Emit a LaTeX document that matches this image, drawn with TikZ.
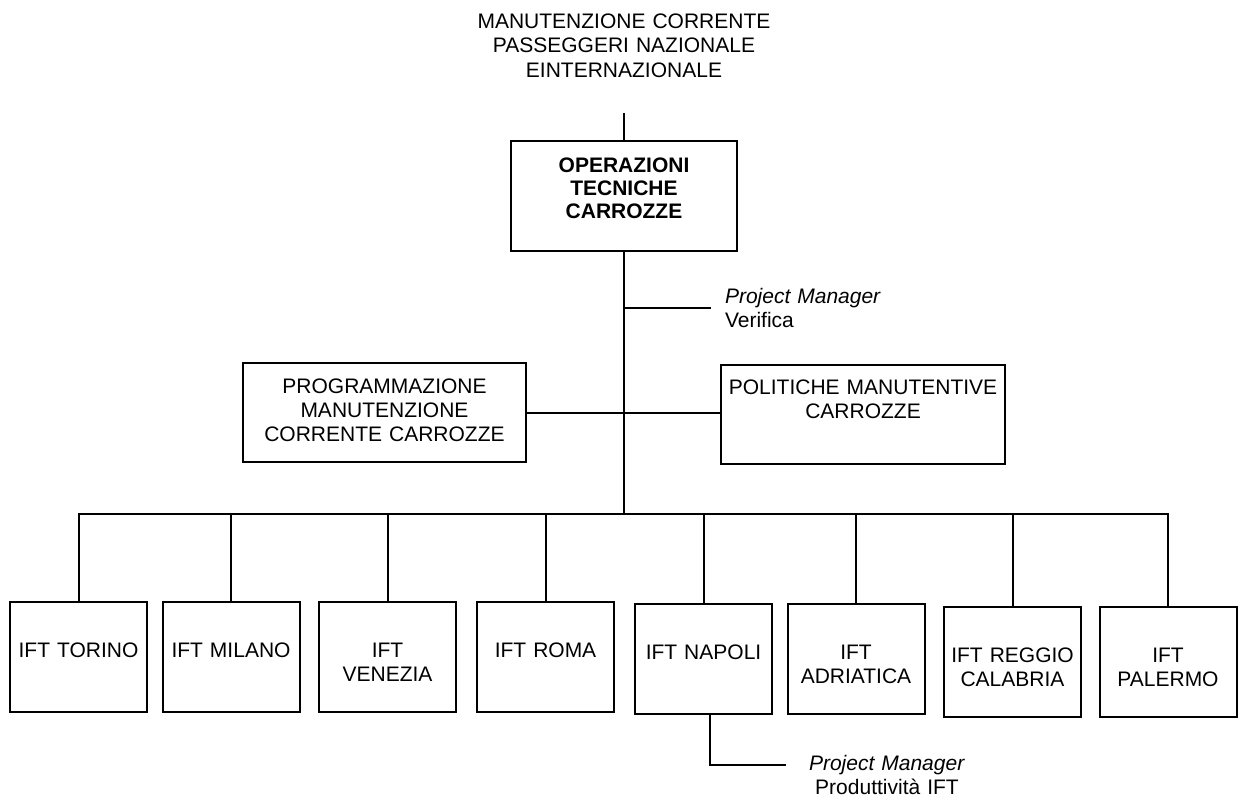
\documentclass[tikz,border=0pt]{standalone}
\usepackage{fontspec}
\setmainfont{Liberation Sans}

\begin{document}
\begin{tikzpicture}[x=1pt,y=-1pt,line width=2pt,
		box/.style={draw,inner sep=0pt,align=center,font=\fontsize{21}{24}\selectfont},
		ift/.style={box,text width=137pt,text height=55pt,text depth=55pt},
		note/.style={inner sep=0pt,font=\fontsize{21}{24}\selectfont}]
				\useasboundingbox (0,0) rectangle (1239,801);
				\node[note,anchor=base,text width=400pt,align=center,font=\fontsize{21}{24.5}\selectfont] (titolo) at (624,28) {MANUTENZIONE CORRENTE\\PASSEGGERI NAZIONALE\\EINTERNAZIONALE};
				\node[box,text width=226pt,text height=31pt,text depth=79pt,font=\bfseries\fontsize{21}{23}\selectfont] (otc) at (624,196) {OPERAZIONI\\TECNICHE\\CARROZZE};
				\node[box,text width=283pt,text height=30pt,text depth=69pt] (prog) at (384.5,412.5) {PROGRAMMAZIONE\\MANUTENZIONE\\CORRENTE CARROZZE};
				\node[box,text width=284pt,text height=29pt,text depth=70pt] (pol) at (863,414.5) {POLITICHE MANUTENTIVE\\CARROZZE};
				\node[ift] (torino) at (78.5,657) {IFT TORINO};
				\node[ift] (milano) at (231,657) {IFT MILANO};
				\node[ift] (venezia) at (387.5,657) {IFT\\VENEZIA};
				\node[ift] (roma) at (545.5,657) {IFT ROMA};
				\node[ift] (napoli) at (703.5,659) {IFT NAPOLI};
				\node[ift] (adriatica) at (856,659) {IFT\\ADRIATICA};
				\node[ift] (reggio) at (1012.5,662) {IFT REGGIO\\CALABRIA};
				\node[ift] (palermo) at (1168,662) {IFT\\PALERMO};
				\node[note,anchor=base west,text width=200pt,align=left] (verifica) at (724,303) {\textit{Project Manager}\\Verifica};
				\node[note,anchor=base,text width=220pt,align=center] (produttivita) at (887,770) {\textit{Project Manager}\\Produttività IFT};
				\coordinate (cima) at (624,113);
				\coordinate (bus) at (624,514);
				\coordinate (pmv) at (711,308);
				\coordinate (pmp) at (786,765);
				\draw (cima) -- (otc.north);
				\draw (otc.south) -- (bus);
				\draw (pmv -| otc.south) -- (pmv);
				\draw (prog.east) -- (prog.east -| pol.west);
				\draw (torino.north) |- (bus) -| (palermo.north);
				\draw (milano.north) -- (milano.north |- bus);
				\draw (venezia.north) -- (venezia.north |- bus);
				\draw (roma.north) -- (roma.north |- bus);
				\draw (napoli.north) -- (napoli.north |- bus);
				\draw (adriatica.north) -- (adriatica.north |- bus);
				\draw (reggio.north) -- (reggio.north |- bus);
				\draw ([xshift=6.5pt]napoli.south) |- (pmp);
\end{tikzpicture}
\end{document}
